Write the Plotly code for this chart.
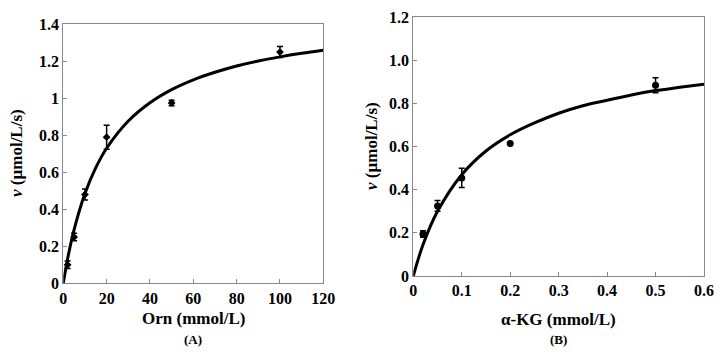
import plotly.graph_objects as go

# Panel A data (Orn)
orn_x = [2, 5, 10, 20, 50, 100]
orn_v = [0.10, 0.25, 0.48, 0.79, 0.975, 1.25]
orn_err = [0.02, 0.02, 0.03, 0.065, 0.015, 0.03]
orn_fit_x = [0, 2, 5, 10, 15, 20, 30, 40, 50, 60, 70, 80, 90, 100, 110, 120]
orn_fit_v = [0, 0.133, 0.29, 0.485, 0.625, 0.73, 0.877, 0.976, 1.047, 1.10, 1.141, 1.175, 1.202, 1.224, 1.243, 1.26]

# Panel B data (alpha-KG)
kg_x = [0.02, 0.05, 0.1, 0.2, 0.5]
kg_v = [0.195, 0.325, 0.455, 0.615, 0.885]
kg_err = [0.015, 0.025, 0.045, 0.0, 0.035]
kg_fit_x = [0, 0.02, 0.05, 0.1, 0.15, 0.2, 0.25, 0.3, 0.35, 0.4, 0.45, 0.5, 0.55, 0.6]
kg_fit_v = [0, 0.145, 0.30, 0.47, 0.58, 0.655, 0.71, 0.755, 0.79, 0.815, 0.84, 0.86, 0.875, 0.89]

a_xticks = [0, 20, 40, 60, 80, 100, 120]
a_yticks = [0, 0.2, 0.4, 0.6, 0.8, 1, 1.2, 1.4]
a_yticklabels = ["0", "0.2", "0.4", "0.6", "0.8", "1", "1.2", "1.4"]
b_xticks = [0, 0.1, 0.2, 0.3, 0.4, 0.5, 0.6]
b_xticklabels = ["0", "0.1", "0.2", "0.3", "0.4", "0.5", "0.6"]
b_yticks = [0, 0.2, 0.4, 0.6, 0.8, 1.0, 1.2]
b_yticklabels = ["0", "0.2", "0.4", "0.6", "0.8", "1.0", "1.2"]

# page body has an 8px margin; figure sized to fit inside the 728x356 window
OFF = 8
W, H = 728 - 2 * OFF, 356 - 2 * OFF
FONT = "Liberation Serif"

def px(x):
    return (x - OFF) / W

def py(y):
    return 1 - (y - OFF) / H

fig = go.Figure()

fig.add_trace(go.Scatter(x=orn_fit_x, y=orn_fit_v, mode="lines", line=dict(color="black", width=3, shape="spline"),
                         xaxis="x", yaxis="y", showlegend=False, hoverinfo="skip"))
fig.add_trace(go.Scatter(x=orn_x, y=orn_v, mode="markers",
                         marker=dict(symbol="diamond", size=6, color="black"),
                         error_y=dict(type="data", array=orn_err, color="black", thickness=1.5, width=3),
                         xaxis="x", yaxis="y", showlegend=False))

fig.add_trace(go.Scatter(x=kg_fit_x, y=kg_fit_v, mode="lines", line=dict(color="black", width=3, shape="spline"),
                         xaxis="x2", yaxis="y2", showlegend=False, hoverinfo="skip"))
fig.add_trace(go.Scatter(x=kg_x, y=kg_v, mode="markers",
                         marker=dict(symbol="circle", size=7, color="black"),
                         error_y=dict(type="data", array=kg_err, color="black", thickness=1.5, width=3),
                         xaxis="x2", yaxis="y2", showlegend=False))

tickfont = dict(family=FONT, size=16, color="black", weight="bold")
axcommon = dict(showline=True, linecolor="#888888", linewidth=1, mirror=True, ticks="inside", ticklen=4,
                tickcolor="#888888", showgrid=False, zeroline=False, tickfont=tickfont, fixedrange=True,
                automargin=False)

fig.update_layout(
    width=W, height=H, margin=dict(l=0, r=0, t=0, b=0, autoexpand=False),
    paper_bgcolor="white", plot_bgcolor="white",
    xaxis=dict(domain=[px(63.3), px(323.3)], range=[0, 120], tickvals=a_xticks, anchor="y", **axcommon),
    yaxis=dict(domain=[py(283.3), py(24.3)], range=[0, 1.4], tickvals=a_yticks, ticktext=a_yticklabels,
               anchor="x", **axcommon),
    xaxis2=dict(domain=[px(413.3), px(704)], range=[0, 0.6], tickvals=b_xticks, ticktext=b_xticklabels,
                anchor="y2", **axcommon),
    yaxis2=dict(domain=[py(276), py(17.3)], range=[0, 1.2], tickvals=b_yticks, ticktext=b_yticklabels,
                anchor="x2", **axcommon),
)

tfont = dict(family=FONT, size=17, color="black", weight="bold")
lfont = dict(family=FONT, size=13, color="black", weight="bold")
annots = [
    dict(x=px(193), y=py(318), text="Orn (mmol/L)", font=tfont, yanchor="middle"),
    dict(x=px(193), y=0, text="(A)", font=lfont, yanchor="bottom", borderpad=0),
    dict(x=px(558), y=py(319), text="α-KG (mmol/L)", font=tfont, yanchor="middle"),
    dict(x=px(558), y=0, text="(B)", font=lfont, yanchor="bottom", borderpad=0),
    dict(x=px(16), y=py(153), text="<i>v</i> (µmol/L/s)", font=tfont, textangle=-90, yanchor="middle"),
    dict(x=px(371), y=py(146), text="<i>v</i> (µmol/L/s)", font=tfont, textangle=-90, yanchor="middle"),
]
for a in annots:
    fig.add_annotation(xref="paper", yref="paper", showarrow=False, xanchor="center", **a)

fig.write_html("out.html")
